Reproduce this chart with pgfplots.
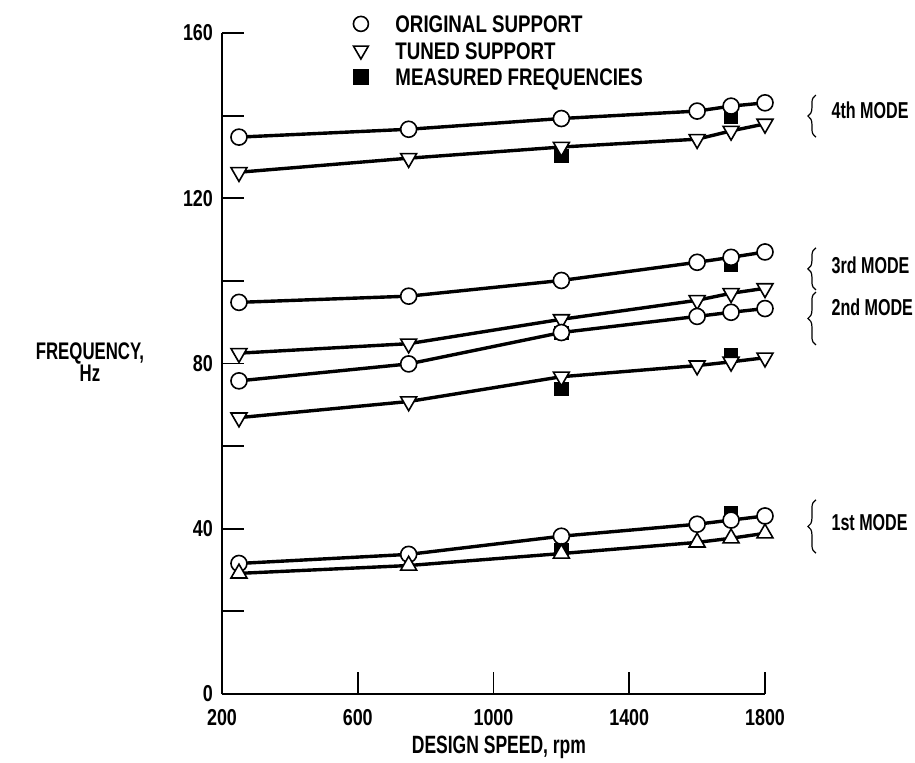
\documentclass[border=0pt]{standalone}
\usepackage{fontspec}
\setmainfont[FakeStretch=0.78]{Liberation Sans}
\newfontfamily\narrowfont[FakeStretch=0.7]{Liberation Sans}
\usepackage{pgfplots}
\pgfplotsset{compat=1.18}
\usetikzlibrary{decorations.pathreplacing}
\begin{document}
\begin{tikzpicture}[font=\fontsize{11}{12}\selectfont\bfseries]
\begin{axis}[name=ax, scale only axis, width=271.5pt, height=330.5pt,
  xmin=200, xmax=1800, ymin=0, ymax=160,
  axis x line=bottom, axis y line=left,
  axis line style={-, line width=0.9pt},
  xtick={200,600,1000,1400,1800},
  ytick={0,20,40,60,80,100,120,140,160},
  yticklabels={0,,40,,80,,120,,160},
  tick align=inside, major tick length=11pt,
  tick style={line width=0.9pt, black},
  /pgf/number format/assume math mode=true,
  /pgf/number format/set thousands separator={},
  tick label style={font=\fontsize{11.5}{12}\selectfont\bfseries},
  xticklabel style={yshift=-4pt},
  yticklabel style={xshift=-1pt},
  clip=false,
  legend cell align=left,
  legend style={at={(rel axis cs:0.2413,1.028)}, anchor=north west, draw=none, fill=none,
    inner sep=0pt, row sep=4.25pt, font=\fontsize{12}{12}\selectfont\bfseries,
    nodes={inner sep=0pt, text height=9pt, text depth=0pt},
    /tikz/every odd column/.append style={column sep=13.5pt}},
]
% legend
\addlegendimage{only marks, mark=*, mark size=3.75pt, mark options={fill=white, draw=black, line width=0.8pt}}
\addlegendentry{ORIGINAL SUPPORT}
\addlegendimage{only marks, mark=triangle*, mark size=4.3pt, mark options={fill=white, draw=black, rotate=180, line width=0.8pt}}
\addlegendentry{TUNED SUPPORT}
\addlegendimage{only marks, mark=square*, mark size=3.6pt, mark options={fill=black}}
\addlegendentry{MEASURED FREQUENCIES}

% measured frequencies
\addplot[forget plot, only marks, mark=square*, mark size=3.3pt, mark options={fill=black}] coordinates {
 (1200,130.2) (1700,139.6) (1700,104.0) (1200,87.4) (1200,73.8) (1700,82.0) (1200,34.9) (1700,43.7)};

% 4th mode
\addplot[forget plot, line width=1.7pt, mark=*, mark size=4pt, mark options={fill=white, line width=0.8pt}] coordinates {
 (250,134.8) (750,136.7) (1200,139.3) (1600,141.1) (1700,142.3) (1800,143.1)};
\addplot[forget plot, line width=1.7pt, mark=triangle*, mark size=4.6pt, mark options={fill=white, rotate=180, line width=0.8pt}] coordinates {
 (250,126.3) (750,129.7) (1200,132.4) (1600,134.3) (1700,136.3) (1800,138.0)};
% 3rd mode
\addplot[forget plot, line width=1.7pt, mark=*, mark size=4pt, mark options={fill=white, line width=0.8pt}] coordinates {
 (250,94.8) (750,96.3) (1200,100.1) (1600,104.5) (1700,105.7) (1800,107.0)};
\addplot[forget plot, line width=1.7pt, mark=triangle*, mark size=4.6pt, mark options={fill=white, rotate=180, line width=0.8pt}] coordinates {
 (250,82.5) (750,84.8) (1200,90.7) (1600,95.3) (1700,97.0) (1800,98.2)};
% 2nd mode
\addplot[forget plot, line width=1.7pt, mark=*, mark size=4pt, mark options={fill=white, line width=0.8pt}] coordinates {
 (250,75.8) (750,79.9) (1200,87.5) (1600,91.4) (1700,92.4) (1800,93.3)};
\addplot[forget plot, line width=1.7pt, mark=triangle*, mark size=4.6pt, mark options={fill=white, rotate=180, line width=0.8pt}] coordinates {
 (250,66.9) (750,70.8) (1200,76.8) (1600,79.5) (1700,80.4) (1800,81.4)};
% 1st mode
\addplot[forget plot, line width=1.7pt, mark=*, mark size=4pt, mark options={fill=white, line width=0.8pt}] coordinates {
 (250,31.6) (750,33.8) (1200,38.2) (1600,41.1) (1700,42.1) (1800,43.1)};
\addplot[forget plot, line width=1.7pt, mark=triangle*, mark size=4.6pt, mark options={fill=white, line width=0.8pt}] coordinates {
 (250,29.2) (750,31.1) (1200,34) (1600,36.7) (1700,37.7) (1800,38.9)};

% mode braces and labels
\draw[decorate, decoration={brace, amplitude=4pt}, line width=0.6pt] (axis cs:1950,134.8) -- (axis cs:1950,145);
\node[anchor=west, inner sep=0pt, font=\narrowfont\fontsize{11.5}{12}\selectfont\bfseries] at (axis cs:1995,141.4) {4th MODE};
\draw[decorate, decoration={brace, amplitude=4pt}, line width=0.6pt] (axis cs:1950,97.8) -- (axis cs:1950,108);
\node[anchor=west, inner sep=0pt, font=\narrowfont\fontsize{11.5}{12}\selectfont\bfseries] at (axis cs:1995,103.8) {3rd MODE};
\draw[decorate, decoration={brace, amplitude=4pt}, line width=0.6pt] (axis cs:1950,84.5) -- (axis cs:1950,97.3);
\node[anchor=west, inner sep=0pt, font=\narrowfont\fontsize{11.5}{12}\selectfont\bfseries] at (axis cs:1995,93.7) {2nd MODE};
\draw[decorate, decoration={brace, amplitude=4pt}, line width=0.6pt] (axis cs:1950,34.1) -- (axis cs:1950,47);
\node[anchor=west, inner sep=0pt, font=\narrowfont\fontsize{11.5}{12}\selectfont\bfseries] at (axis cs:1995,41.4) {1st MODE};

% axis titles
\node[align=center, font=\narrowfont\fontsize{12}{11}\selectfont\bfseries] at (axis cs:-189,80.4) {FREQUENCY,\\Hz};
\node[font=\narrowfont\fontsize{12.5}{12}\selectfont\bfseries] at (axis cs:1016,-13.0) {DESIGN SPEED, rpm};
\end{axis}
\pgfresetboundingbox
\path (ax.south west) ++(-111pt,-34pt) rectangle ++(457.5pt,381pt);
\end{tikzpicture}
\end{document}
